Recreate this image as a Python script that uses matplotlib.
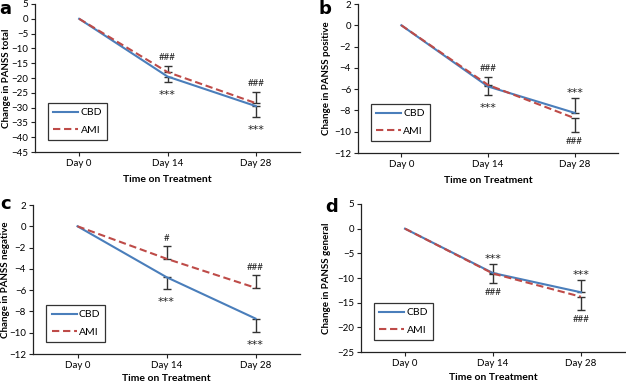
import matplotlib
matplotlib.use("Agg")
import matplotlib.pyplot as plt
import numpy as np

plt.rcParams['font.family'] = ['Lato', 'DejaVu Sans']

days = ['Day 0', 'Day 14', 'Day 28']

# Panel a: PANSS total
a_cbd = [0, -19.5, -29.5]
a_ami = [0, -18.0, -28.5]
a_cbd_lo = [0, 2.0, 3.7]; a_cbd_hi = [0, 0, 0]
a_ami_lo = [0, 0, 0];     a_ami_hi = [0, 2.0, 3.7]
a_cbd_sig = ['', '***', '***']
a_ami_sig = ['', '###', '###']

# Panel b: PANSS positive
b_cbd = [0, -5.75, -8.23]
b_ami = [0, -5.6, -8.73]
b_cbd_lo = [0, 0.82, 0]; b_cbd_hi = [0, 0, 1.38]
b_ami_lo = [0, 0, 1.29]; b_ami_hi = [0, 0.75, 0]
b_cbd_sig = ['', '***', '***']
b_ami_sig = ['', '###', '###']

# Panel c: PANSS negative
c_cbd = [0, -4.78, -8.67]
c_ami = [0, -3.05, -5.78]
c_cbd_lo = [0, 1.13, 1.29]; c_cbd_hi = [0, 0, 0]
c_ami_lo = [0, 0, 0];       c_ami_hi = [0, 1.16, 1.16]
c_cbd_sig = ['', '***', '***']
c_ami_sig = ['', '#', '###']

# Panel d: PANSS general
d_cbd = [0, -9.0, -12.9]
d_ami = [0, -9.1, -13.8]
d_cbd_lo = [0, 0, 0];     d_cbd_hi = [0, 1.8, 2.4]
d_ami_lo = [0, 1.9, 2.6]; d_ami_hi = [0, 0, 0]
d_cbd_sig = ['', '***', '***']
d_ami_sig = ['', '###', '###']

panels = [
    dict(tag='a', ylabel='Change in PANSS total', ylim=(-45, 5), step=5,
         cbd=a_cbd, ami=a_ami, cbd_lo=a_cbd_lo, cbd_hi=a_cbd_hi, ami_lo=a_ami_lo, ami_hi=a_ami_hi,
         cbd_sig=a_cbd_sig, ami_sig=a_ami_sig,
         pos=[35, 4, 300, 152], ylx=-0.092, xly=-0.155, tagxy=(5, 9)),
    dict(tag='b', ylabel='Change in PANSS positive', ylim=(-12, 2), step=2,
         cbd=b_cbd, ami=b_ami, cbd_lo=b_cbd_lo, cbd_hi=b_cbd_hi, ami_lo=b_ami_lo, ami_hi=b_ami_hi,
         cbd_sig=b_cbd_sig, ami_sig=b_ami_sig,
         pos=[358, 4, 618, 153], ylx=-0.105, xly=-0.155, tagxy=(325, 9)),
    dict(tag='c', ylabel='Change in PANSS negative', ylim=(-12, 2), step=2,
         cbd=c_cbd, ami=c_ami, cbd_lo=c_cbd_lo, cbd_hi=c_cbd_hi, ami_lo=c_ami_lo, ami_hi=c_ami_hi,
         cbd_sig=c_cbd_sig, ami_sig=c_ami_sig,
         pos=[33, 205, 300, 354], ylx=-0.088, xly=-0.135, tagxy=(6, 204)),
    dict(tag='d', ylabel='Change in PANSS general', ylim=(-25, 5), step=5,
         cbd=d_cbd, ami=d_ami, cbd_lo=d_cbd_lo, cbd_hi=d_cbd_hi, ami_lo=d_ami_lo, ami_hi=d_ami_hi,
         cbd_sig=d_cbd_sig, ami_sig=d_ami_sig,
         pos=[361, 204, 625, 352], ylx=-0.112, xly=-0.14, tagxy=(332, 207)),
]

W, H = 626, 382
fig = plt.figure(figsize=(W / 100, H / 100), dpi=100)

blue = '#4A7EBB'
red = '#BE4B48'
ecol = '#333333'


def sig_text(ax, s, xy, above):
    star = s.startswith('*')
    if star:
        off = (0, 4.0) if above else (0, -9.0)
        ax.annotate(s, xy, xytext=off, textcoords='offset points', ha='center',
                    va='center', fontsize=8, color='#222222', family='DejaVu Sans')
    else:
        off = (0, 6) if above else (0, -7)
        ax.annotate(s, xy, xytext=off, textcoords='offset points', ha='center',
                    va='center', fontsize=7, color='#222222')


for p in panels:
    l, t, r, b = p['pos']
    ax = fig.add_axes([l / W, 1 - b / H, (r - l) / W, (b - t) / H])
    x = np.arange(len(days))
    ax.plot(x, p['cbd'], color=blue, lw=1.5, label='CBD', zorder=3)
    ax.plot(x, p['ami'], color=red, lw=1.5, ls=(0, (3.5, 1.8)), label='AMI', zorder=4)
    for vals, lo, hi, sig in [(p['cbd'], p['cbd_lo'], p['cbd_hi'], p['cbd_sig']),
                              (p['ami'], p['ami_lo'], p['ami_hi'], p['ami_sig'])]:
        for i in range(1, len(days)):
            if lo[i] > 0:
                ax.errorbar(x[i], vals[i], yerr=[[lo[i]], [0]], fmt='none', ecolor=ecol,
                            elinewidth=1.0, capsize=3, capthick=1.0, zorder=2)
                sig_text(ax, sig[i], (x[i], vals[i] - lo[i]), False)
            if hi[i] > 0:
                ax.errorbar(x[i], vals[i], yerr=[[0], [hi[i]]], fmt='none', ecolor=ecol,
                            elinewidth=1.0, capsize=3, capthick=1.0, zorder=2)
                sig_text(ax, sig[i], (x[i], vals[i] + hi[i]), True)
    ax.set_xlim(-0.5, 2.5)
    ax.set_ylim(*p['ylim'])
    ax.set_yticks(np.arange(p['ylim'][0], p['ylim'][1] + 0.01, p['step']))
    ax.set_xticks(x)
    ax.set_xticklabels(days)
    for s in ['top', 'right']:
        ax.spines[s].set_visible(False)
    for s in ['left', 'bottom']:
        ax.spines[s].set_color('#222222')
        ax.spines[s].set_linewidth(0.9)
    ax.tick_params(axis='both', labelsize=7, length=3, width=0.8, color='#222222', pad=2)
    ax.set_ylabel(p['ylabel'], fontsize=7, fontweight='bold')
    ax.yaxis.set_label_coords(p['ylx'], 0.5)
    ax.set_xlabel('Time on Treatment', fontsize=7.5, fontweight='bold')
    ax.xaxis.set_label_coords(0.5, p['xly'])
    leg = ax.legend(loc='lower left', bbox_to_anchor=(0.05, 0.08), fontsize=7.5,
                    frameon=True, fancybox=False, edgecolor='black', handlelength=2.4,
                    borderpad=0.5, labelspacing=0.8, handletextpad=0.2, borderaxespad=0.0)
    leg.get_frame().set_linewidth(0.9)
    fig.text(p['tagxy'][0] / W, 1 - p['tagxy'][1] / H, p['tag'], fontsize=13,
             fontweight='bold', ha='center', va='center', family='DejaVu Sans')

fig.savefig('out.png', dpi=100)
